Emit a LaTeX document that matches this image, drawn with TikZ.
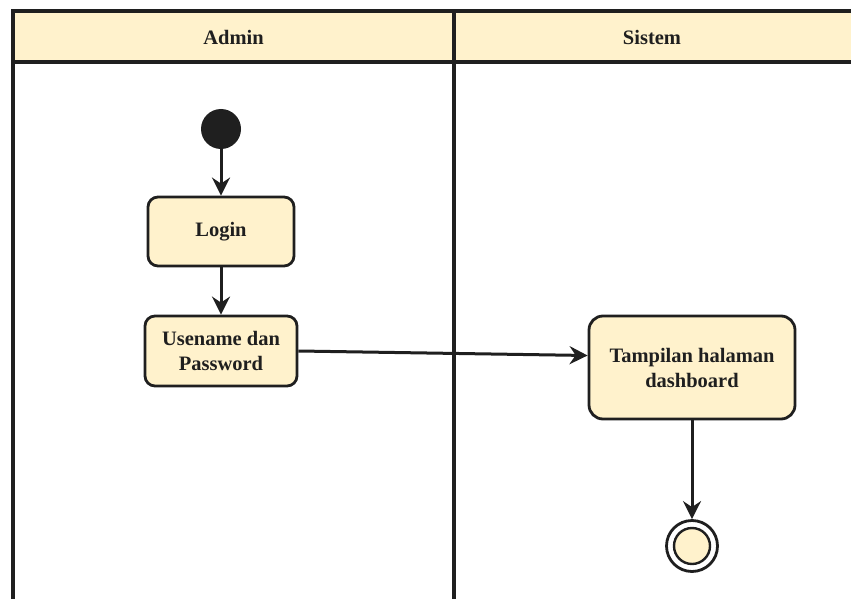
\documentclass[tikz,border=0pt]{standalone}
\usepackage{fontspec}
\setmainfont{Liberation Serif}
\usetikzlibrary{arrows.meta}
\definecolor{cream}{HTML}{FFF2CC}
\definecolor{ink}{HTML}{1F1F1F}
\begin{document}
\begin{tikzpicture}[x=1pt,y=-1pt,
  lane/.style={draw=ink,line width=3.4pt},
  action/.style={draw=ink,fill=cream,line width=2.8pt,rounded corners=10pt,
    align=center,inner sep=0pt,font=\bfseries\fontsize{20.5}{25}\selectfont,text=ink},
  flow/.style={draw=ink,line width=3pt,-{Stealth[length=18pt,width=18pt,inset=6pt]}},
  lanetitle/.style={font=\bfseries\fontsize{20.5}{24}\selectfont,text=ink}]
\useasboundingbox (0,0) rectangle (851,599);
% swimlane frame and header
\fill[cream] (13,11) rectangle (851,62);
\draw[lane] (851,11) -- (13,11) -- (13,599);
\draw[lane] (13,62) -- (851,62);
\draw[lane] (454,11) -- (454,599);
\node[lanetitle] (hAdmin) at (233.5,37) {Admin};
\node[lanetitle] (hSistem) at (652,37) {Sistem};
% activity nodes
\node[circle,fill=ink,minimum size=40pt,inner sep=0pt] (start) at (221,129) {};
\node[action,minimum width=146pt,minimum height=69pt] (login) at (221,231.5) {Login};
\node[action,minimum width=152pt,minimum height=70pt] (cred) at (221,351) {Usename dan\\Password};
\node[action,rounded corners=14pt,minimum width=206pt,minimum height=103pt] (dash) at (692,367.5) {Tampilan halaman\\dashboard};
\node[circle,draw=ink,line width=2.8pt,minimum size=51pt,inner sep=0pt] (stop) at (692,546) {};
\node[circle,draw=ink,fill=cream,line width=2.4pt,minimum size=36pt,inner sep=0pt] at (stop.center) {};
% control flow
\draw[flow] (start) -- (login);
\draw[flow] (login) -- (cred);
\draw[flow] (cred.east) -- ([yshift=12pt]dash.west);
\draw[flow] (dash) -- (stop);
\end{tikzpicture}
\end{document}
